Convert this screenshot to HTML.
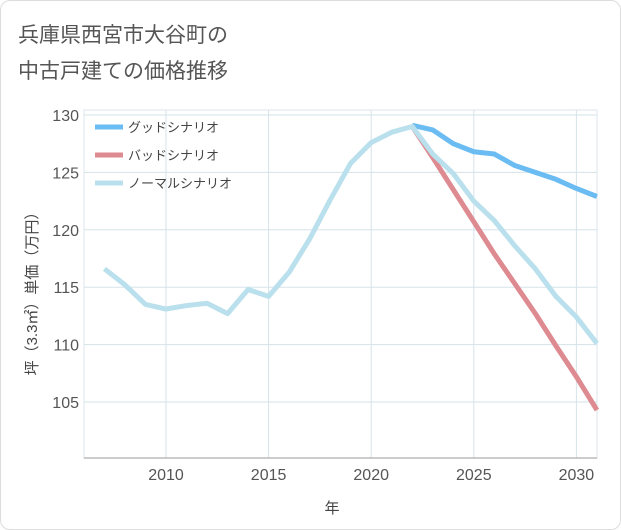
<!DOCTYPE html>
<html><head><meta charset="utf-8"><style>
body{margin:0;background:#fff;}
#card{position:absolute;left:0;top:0;width:619px;height:528px;border:1px solid #ddd;border-radius:10px;background:#fff;}
svg{position:absolute;left:0;top:0;font-family:"Liberation Sans","Noto Sans CJK JP",sans-serif;}
</style></head><body>
<div id="card"></div>
<svg id="chart" width="621" height="530">
<text x="18" y="42" font-size="21" fill="#555">兵庫県西宮市大谷町の</text>
<text x="18" y="78" font-size="21" fill="#555">中古戸建ての価格推移</text>
<g id="grid"></g><g id="axes"></g><g id="series"></g><g id="legend"></g>
<text x="332" y="513" font-size="15" fill="#444" text-anchor="middle">年</text>
<text transform="translate(37,290) rotate(-90)" font-size="15" fill="#444" text-anchor="middle">坪（3.3㎡）単価（万円）</text>
</svg>
<script>
const years=[2007,2008,2009,2010,2011,2012,2013,2014,2015,2016,2017,2018,2019,2020,2021,2022,2023,2024,2025,2026,2027,2028,2029,2030,2031];
const normal=[116.6,115.2,113.5,113.1,113.4,113.6,112.7,114.8,114.2,116.3,119.2,122.6,125.8,127.6,128.5,129.0,126.6,124.9,122.5,120.8,118.6,116.6,114.2,112.4,110.1];
const goodYears=[2022,2023,2024,2025,2026,2027,2028,2029,2030,2031];
const good=[129.1,128.7,127.5,126.8,126.6,125.6,125.0,124.4,123.6,122.9];
const bad=[129.0,126.3,123.5,120.7,117.9,115.3,112.7,109.9,107.2,104.3];
const xTicks=[2010,2015,2020,2025,2030];
const yTicks=[105,110,115,120,125,130];
const X=y=>166+(y-2010)*20.52;
const Y=v=>115+(130-v)*11.48;
const ns='http://www.w3.org/2000/svg';
function mk(tag,attrs,parent){const e=document.createElementNS(ns,tag);for(const k in attrs)e.setAttribute(k,attrs[k]);document.getElementById(parent).appendChild(e);return e;}
const L=84,R=597,T=110,B=458;
let bx=mk('rect',{x:L,y:T,width:R-L,height:B-T,fill:'none',stroke:'#dde6ea'},'grid');


xTicks.forEach(t=>{
 let l=mk('line',{x1:X(t),x2:X(t),y1:T,y2:B,stroke:'#d5e3ea'},'grid');
 
 
 let tx=mk('text',{x:X(t),y:480,'font-size':16,fill:'#555','text-anchor':'middle'},'axes');
 tx.textContent=t;
 
 
});
yTicks.forEach(t=>{
 let l=mk('line',{x1:L,x2:R,y1:Y(t),y2:Y(t),stroke:'#d5e3ea'},'grid');
 
 
 let tx=mk('text',{x:79,y:Y(t)+6,'font-size':16,fill:'#555','text-anchor':'end'},'axes');
 tx.textContent=t;
 
 
});
let xa=mk('line',{x1:L,x2:R,y1:B,y2:B,stroke:'#999'},'axes');


function line(xs,vs,color,name){
 const p=mk('polyline',{points:xs.map((y,i)=>X(y)+','+Y(vs[i])).join(' '),fill:'none',stroke:color,'stroke-width':5,'stroke-linejoin':'round'},'series');
 
 
}
line(goodYears,good,'#6bbcf2','good-scenario-line');
line(goodYears,bad,'#dd8a90','bad-scenario-line');
line(years,normal,'#b9e0ec','normal-scenario-line');
[['グッドシナリオ','#6bbcf2'],['バッドシナリオ','#dd8a90'],['ノーマルシナリオ','#b9e0ec']].forEach((d,i)=>{
 const y=127+i*28;
 let l=mk('line',{x1:95,x2:123,y1:y,y2:y,stroke:d[1],'stroke-width':5},'legend');
 
 
 let t=mk('text',{x:128,y:y+5,'font-size':13,fill:'#444'},'legend');
 t.textContent=d[0];
 
 
});
</script>
</body></html>
